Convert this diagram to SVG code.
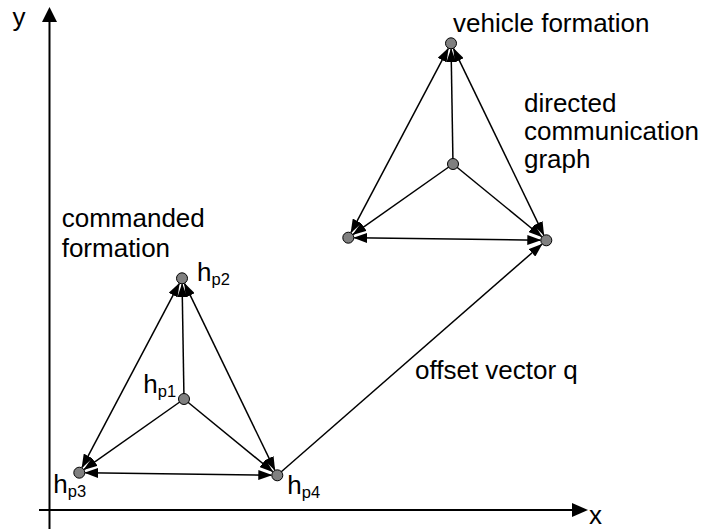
<svg xmlns="http://www.w3.org/2000/svg" width="702" height="529" viewBox="0 0 702 529">
<style>
text{font-family:"Liberation Sans",Arial,sans-serif;font-size:26px;fill:#000}
.sub{font-size:16.5px}
.e{stroke:#000;stroke-width:1.5;fill:none}
.ax{stroke:#000;stroke-width:2;fill:none}
.n{fill:#808080;stroke:#000;stroke-width:1}
</style>
<defs>
<marker id="ah" markerUnits="userSpaceOnUse" markerWidth="14" markerHeight="10" refX="13" refY="5" orient="auto-start-reverse">
<path d="M0,0 L14,5 L0,10 z" fill="#000"/>
</marker>
</defs>
<g id="axes">
<line class="ax" x1="49.5" y1="529" x2="49.5" y2="20"/>
<path d="M49.5,7 L57,22 L42,22 z" fill="#000"/>
<line class="ax" x1="39" y1="510" x2="574" y2="510"/>
<path d="M588,510 L572,503 L572,517 z" fill="#000"/>
<text x="12.5" y="26">y</text>
<text x="589" y="524">x</text>
</g>
<g id="connectors">
<line class="e" x1="184" y1="399" x2="182.1" y2="284.3" marker-end="url(#ah)"/>
<line class="e" x1="184" y1="399" x2="84.2" y2="469.3" marker-end="url(#ah)"/>
<line class="e" x1="184" y1="399" x2="272.6" y2="471.5" marker-end="url(#ah)"/>
<line class="e" x1="179.2" y1="283.6" x2="82.1" y2="467.4" marker-start="url(#ah)" marker-end="url(#ah)"/>
<line class="e" x1="184.6" y1="283.7" x2="274.7" y2="469.9" marker-start="url(#ah)" marker-end="url(#ah)"/>
<line class="e" x1="85.3" y1="472.8" x2="271.3" y2="475.2" marker-start="url(#ah)" marker-end="url(#ah)"/>
<line class="e" x1="277.3" y1="475.3" x2="541.8" y2="244.3" marker-end="url(#ah)"/>
<line class="e" x1="453" y1="164" x2="451.1" y2="49.3" marker-end="url(#ah)"/>
<line class="e" x1="453" y1="164" x2="353.2" y2="234.3" marker-end="url(#ah)"/>
<line class="e" x1="453" y1="164" x2="541.6" y2="236.5" marker-end="url(#ah)"/>
<line class="e" x1="448.2" y1="48.6" x2="351.1" y2="232.4" marker-start="url(#ah)" marker-end="url(#ah)"/>
<line class="e" x1="453.6" y1="48.7" x2="543.7" y2="234.9" marker-start="url(#ah)" marker-end="url(#ah)"/>
<line class="e" x1="354.3" y1="237.8" x2="540.3" y2="240.2" marker-start="url(#ah)" marker-end="url(#ah)"/>
</g>
<g id="hp1"><circle class="n" cx="184" cy="399" r="5.5"/><text x="143.3" y="393.3">h<tspan class="sub" dy="4">p1</tspan></text></g>
<g id="hp2"><circle class="n" cx="182" cy="278.3" r="5.5"/><text x="197" y="281">h<tspan class="sub" dy="4">p2</tspan></text></g>
<g id="hp3"><circle class="n" cx="79.3" cy="472.7" r="5.5"/><text x="53.3" y="493.3">h<tspan class="sub" dy="4">p3</tspan></text></g>
<g id="hp4"><circle class="n" cx="277.3" cy="475.3" r="5.5"/><text x="287.3" y="494">h<tspan class="sub" dy="4">p4</tspan></text></g>
<g id="v1"><circle class="n" cx="453" cy="164" r="5.5"/></g>
<g id="v2"><circle class="n" cx="451" cy="43.3" r="5.5"/></g>
<g id="v3"><circle class="n" cx="348.3" cy="237.7" r="5.5"/></g>
<g id="v4"><circle class="n" cx="546.3" cy="240.3" r="5.5"/></g>
<g id="labels">
<text x="453" y="32">vehicle formation</text>
<text x="524" y="111.7">directed</text>
<text x="524" y="140">communication</text>
<text x="524" y="167.5">graph</text>
<text x="61.7" y="227.3">commanded</text>
<text x="61.7" y="256.7">formation</text>
<text x="415" y="379">offset vector q</text>
</g>
</svg>
